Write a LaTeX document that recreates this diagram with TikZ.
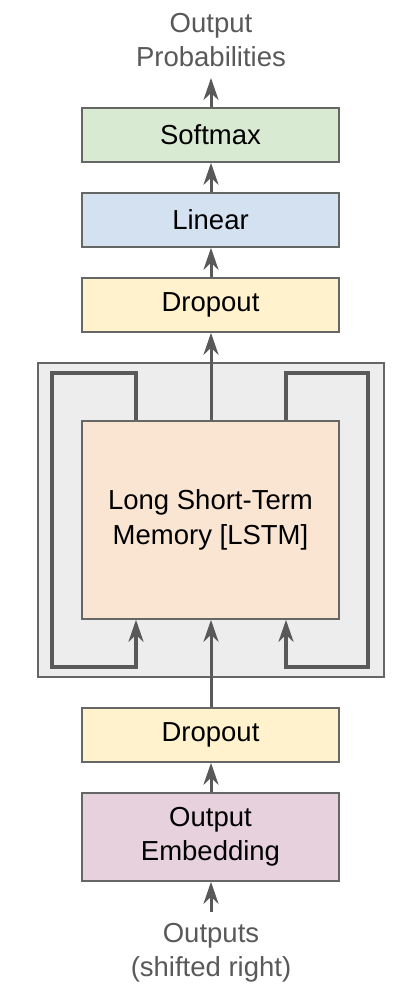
\documentclass[tikz,border=0pt]{standalone}
\usepackage{fontspec}
\setmainfont{Liberation Sans}
\usetikzlibrary{arrows.meta}
\definecolor{strokec}{HTML}{666666}
\definecolor{linec}{HTML}{595959}
\definecolor{labelc}{HTML}{595959}
\definecolor{cgreen}{HTML}{D9EAD3}
\definecolor{cblue}{HTML}{D3E1F1}
\definecolor{cyellow}{HTML}{FFF2CC}
\definecolor{corange}{HTML}{F9E5D1}
\definecolor{cpink}{HTML}{E6D1DC}
\definecolor{cgray}{HTML}{EDEDED}
\begin{document}
\begin{tikzpicture}[x=1bp,y=-1bp,
  every node/.style={font=\fontsize{27.5bp}{34bp}\selectfont},
  box/.style={draw=strokec, line width=1.6bp, minimum width=257bp, inner sep=0pt, align=center, text=black},
  lbl/.style={text=labelc, align=center, inner sep=0pt},
  arr/.style={draw=linec, line width=3bp, -{Stealth[length=22bp,width=15bp,inset=7bp]}},
  loopline/.style={draw=linec, line width=3.5bp, line join=miter, -{Stealth[length=22bp,width=15bp,inset=7bp]}}
]
\useasboundingbox (0,0) rectangle (400,998);
\fill[white] (0,0) rectangle (400,998);

% background group
\node[draw=strokec, fill=cgray, line width=1.6bp, minimum width=346bp, minimum height=314bp, inner sep=0pt] (bg) at (211,520) {};

\node[lbl] (out) at (211,40) {Output\\Probabilities};
\coordinate (outtip) at (211,78);
\node[box, fill=cgreen, minimum height=54bp] (softmax) at (210.5,135) {\raisebox{-2bp}{Softmax}};
\node[box, fill=cblue, minimum height=54bp] (linear) at (210.5,220) {\raisebox{-2bp}{Linear}};
\node[box, fill=cyellow, minimum height=54bp] (drop1) at (210.5,305) {\raisebox{-2bp}{Dropout}};
\node[box, fill=corange, minimum height=198bp] (lstm) at (210.5,520) {\raisebox{-4bp}{\begin{tabular}{@{}c@{}}Long Short-Term\\[1bp]Memory [LSTM]\end{tabular}}};
\node[box, fill=cyellow, minimum height=54bp] (drop2) at (210.5,735) {\raisebox{-2bp}{Dropout}};
\node[box, fill=cpink, minimum height=88bp] (emb) at (210.5,837) {Output\\Embedding};
\node[lbl] (in) at (211,953) {Outputs\\(shifted right)};
\coordinate (intail) at (211,912);

\coordinate (lx) at (136,0);
\coordinate (rx) at (286,0);
\coordinate (mx) at (211,0);
\coordinate (lt) at (52,373);
\coordinate (lb) at (136,667);
\coordinate (rt) at (368,373);
\coordinate (rb) at (286,667);

% loops
\draw[loopline] (lstm.north -| lx) |- (lt) |- (lb) -- (lstm.south -| lx);
\draw[loopline] (lstm.north -| rx) |- (rt) |- (rb) -- (lstm.south -| rx);

% main flow
\draw[arr] (intail) -- (emb.south -| mx);
\draw[arr] (emb.north -| mx) -- (drop2.south -| mx);
\draw[arr] (drop2.north -| mx) -- (lstm.south -| mx);
\draw[arr] (lstm.north -| mx) -- (drop1.south -| mx);
\draw[arr] (drop1.north -| mx) -- (linear.south -| mx);
\draw[arr] (linear.north -| mx) -- (softmax.south -| mx);
\draw[arr] (softmax.north -| mx) -- (outtip);
\end{tikzpicture}
\end{document}
